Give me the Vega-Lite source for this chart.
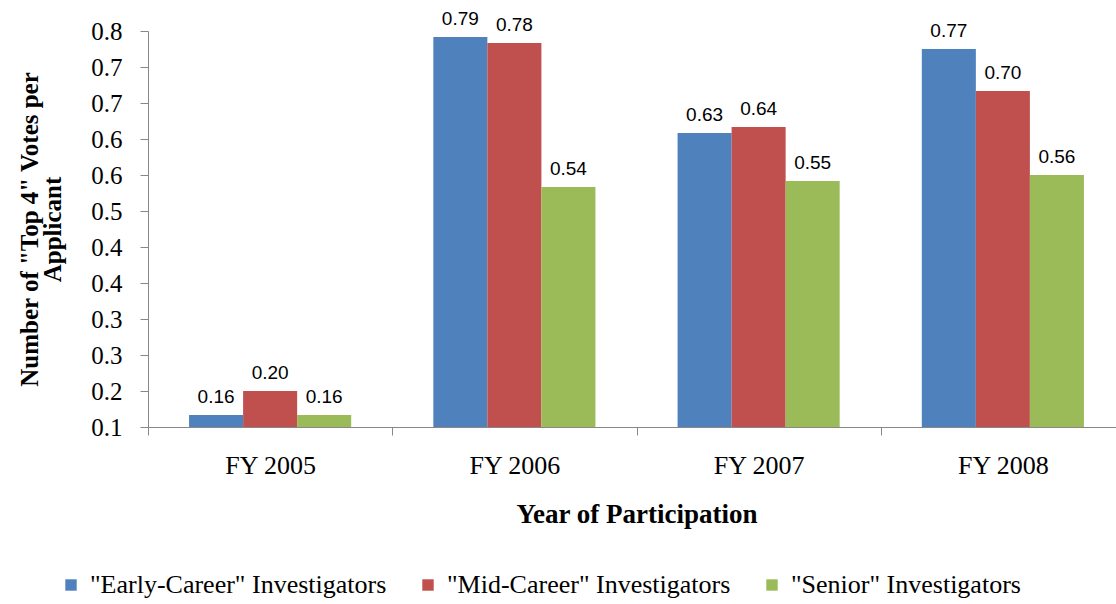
{
  "$schema": "https://vega.github.io/schema/vega-lite/v6.json",
  "autosize": {"type": "none"},
  "width": 977,
  "height": 396,
  "padding": {"left": 148, "top": 31, "right": 0, "bottom": 177},
  "background": "white",
  "config": {
    "view": {"stroke": null},
    "font": "Liberation Serif",
    "style": {"guide-label": {"font": "Liberation Serif"}},
    "legend": {"labelFont": "Liberation Serif", "labelFontSize": 26, "labelColor": "black"}
  },
  "data": {
    "values": [
      {"year": "FY 2005", "group": "\"Early-Career\" Investigators", "value": 0.16},
      {"year": "FY 2005", "group": "\"Mid-Career\" Investigators", "value": 0.20},
      {"year": "FY 2005", "group": "\"Senior\" Investigators", "value": 0.16},
      {"year": "FY 2006", "group": "\"Early-Career\" Investigators", "value": 0.79},
      {"year": "FY 2006", "group": "\"Mid-Career\" Investigators", "value": 0.78},
      {"year": "FY 2006", "group": "\"Senior\" Investigators", "value": 0.54},
      {"year": "FY 2007", "group": "\"Early-Career\" Investigators", "value": 0.63},
      {"year": "FY 2007", "group": "\"Mid-Career\" Investigators", "value": 0.64},
      {"year": "FY 2007", "group": "\"Senior\" Investigators", "value": 0.55},
      {"year": "FY 2008", "group": "\"Early-Career\" Investigators", "value": 0.77},
      {"year": "FY 2008", "group": "\"Mid-Career\" Investigators", "value": 0.70},
      {"year": "FY 2008", "group": "\"Senior\" Investigators", "value": 0.56}
    ]
  },
  "encoding": {
    "x": {
      "field": "year", "type": "nominal", "sort": null,
      "scale": {"paddingInner": 0, "paddingOuter": 0},
      "axis": {
        "title": "Year of Participation",
        "labelAngle": 0,
        "labelFont": "Liberation Serif", "labelFontSize": 26, "labelColor": "black",
        "labelPadding": 17,
        "tickBand": "extent", "tickSize": 8, "tickColor": "#888888",
        "domainColor": "#888888",
        "titleFont": "Liberation Serif", "titleFontSize": 27, "titleFontWeight": "bold", "titleColor": "black",
        "titlePadding": 23
      }
    },
    "xOffset": {
      "field": "group", "type": "nominal", "sort": null,
      "scale": {"paddingInner": 0, "paddingOuter": 0.76}
    },
    "y": {
      "field": "value", "type": "quantitative",
      "scale": {"domain": [0.14, 0.80], "zero": false, "nice": false},
      "axis": {
        "title": ["Number of \"Top 4\" Votes per", "Applicant"],
        "values": [0.14, 0.20, 0.26, 0.32, 0.38, 0.44, 0.50, 0.56, 0.62, 0.68, 0.74, 0.80],
        "format": ".1f",
        "grid": false,
        "labelFont": "Liberation Serif", "labelFontSize": 25, "labelColor": "black",
        "labelPadding": 18,
        "tickSize": 8, "tickColor": "#888888", "domainColor": "#888888",
        "titleFont": "Liberation Serif", "titleFontSize": 25, "titleFontWeight": "bold", "titleColor": "black",
        "titlePadding": 25, "titleLineHeight": 23
      }
    }
  },
  "layer": [
    {
      "mark": {"type": "bar", "clip": true},
      "encoding": {
        "color": {
          "field": "group", "type": "nominal", "sort": null,
          "scale": {"range": ["#4F81BD", "#C0504D", "#9BBB59"]},
          "legend": {
            "title": null,
            "orient": "none",
            "direction": "horizontal",
            "legendX": -90,
            "legendY": 541,
            "symbolType": "square",
            "symbolSize": 130,
            "symbolStrokeWidth": 0,
            "labelFont": "Liberation Serif", "labelFontSize": 26, "labelColor": "black",
            "labelOffset": 6,
            "columnPadding": 28,
            "labelLimit": 400
          }
        }
      }
    },
    {
      "mark": {"type": "text", "baseline": "bottom", "dy": -8, "font": "Liberation Sans", "fontSize": 19, "color": "black"},
      "encoding": {
        "text": {"field": "value", "type": "quantitative", "format": ".2f"}
      }
    }
  ]
}
